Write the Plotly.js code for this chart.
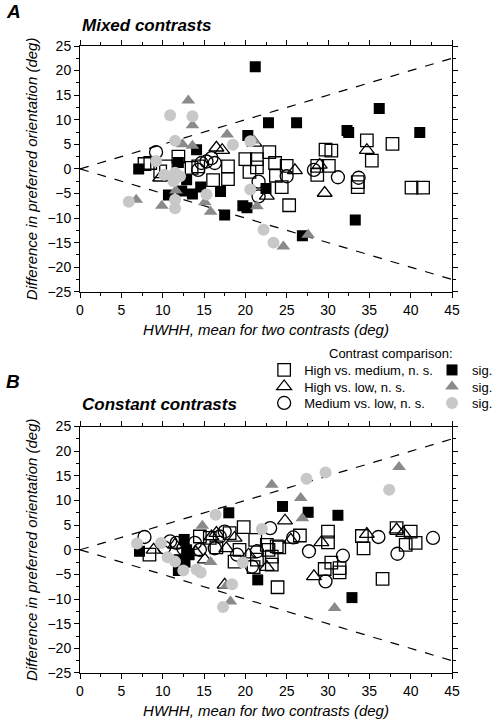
<!DOCTYPE html>
<html>
<head>
<meta charset="utf-8">
<script src="https://cdn.plot.ly/plotly-3.0.1.min.js"></script>
<style>html,body{margin:0;padding:0;background:#fff;}#chart{width:498px;height:721px;}</style>
</head>
<body>
<div id="chart"></div>
<script>
// ---------- Panel A: Mixed contrasts ----------
var mixHMnsX = [7.8,8.5,9.7,10.4,11.9,13.5,14.3,16.1,17.9,17.9,20.0,21.4,21.4,20.5,22.9,23.6,23.7,25.0,24.4,25.3,29.7,30.4,28.7,30.1,28.7,33.6,33.6,34.7,35.3,37.8,40.1,41.5];
var mixHMnsY = [1.0,1.2,-0.5,0.5,2.5,0.2,0.5,-2.3,0.5,-2.1,2.0,2.0,0.3,-0.6,3.4,1.2,-1.4,0.6,-3.7,-7.4,3.9,3.7,0.6,0.6,-1.2,-2.7,-3.7,5.8,1.7,5.1,-3.8,-3.8];
var mixHMsigX = [7.1,10.7,11.9,12.3,12.9,13.6,14.1,14.6,17.0,17.5,19.7,20.3,20.2,21.2,22.5,22.8,26.2,26.9,32.3,32.5,33.3,36.2,41.1];
var mixHMsigY = [0.0,-5.3,1.3,-4.5,-2.2,-5.1,3.9,-3.7,-4.6,-9.4,-7.5,6.8,-7.9,20.8,-4.0,9.4,9.4,-13.6,7.8,7.4,-10.4,12.3,7.4];
var mixHLnsX = [9.7,16.5,17.2,21.1,22.6,26.0,29.0,29.6,34.7];
var mixHLnsY = [-1.8,4.3,3.8,5.3,-5.5,-0.3,0.8,-4.9,3.8];
var mixHLsigX = [6.8,9.9,11.6,12.4,13.1,13.6,13.6,15.1,15.8,17.8,21.0,21.4,24.6,27.6];
var mixHLsigY = [-6.3,-7.5,-4.4,5.0,13.9,8.9,4.7,-6.8,-8.7,7.0,5.8,-7.6,-15.8,-13.4];
var mixMLnsX = [9.2,14.3,14.7,15.3,15.9,16.3,21.6,21.6,25.0,28.3,31.2,33.7];
var mixMLnsY = [3.4,-0.2,1.2,1.5,2.2,1.2,-2.6,-5.6,-1.5,-0.2,-1.7,-1.8];
var mixMLsigX = [5.9,9.2,10.2,10.9,11.5,11.5,11.3,12.1,11.5,11.5,13.6,15.3,18.5,20.6,20.6,22.2,23.4];
var mixMLsigY = [-6.7,1.6,-1.2,10.9,5.7,-0.8,-2.5,-1.5,-6.3,-8.0,10.7,-5.2,4.9,5.6,-4.2,-12.4,-15.0];

// ---------- Panel B: Constant contrasts ----------
var conHMnsX = [8.4,14.5,15.7,16.5,18.1,19.3,18.7,19.8,21.2,21.4,21.0,22.6,22.8,23.2,23.2,23.9,23.8,24.1,26.6,30.0,30.0,29.6,30.4,31.4,31.4,34.1,34.3,36.6,38.3,39.4,40.0,40.6];
var conHMnsY = [-1.0,2.7,2.4,0.5,3.4,0.0,-2.4,4.6,2.0,-2.0,-3.5,1.0,0.0,-1.4,-3.0,-7.6,0.7,0.5,2.9,3.7,1.5,-3.9,-2.6,-3.7,-4.6,2.8,0.3,-5.9,4.4,1.0,3.7,1.4];
var conHMsigX = [7.2,11.9,12.0,12.6,12.9,13.2,12.7,18.0,21.5,24.5,27.6,31.2,32.9];
var conHMsigY = [-0.3,-4.2,-2.0,2.1,0.0,-1.0,-2.5,7.5,-6.1,8.8,7.6,7.0,-9.7];
var conHLnsX = [8.9,11.5,14.0,15.1,15.9,16.5,17.7,18.7,17.5,20.4,22.6,24.8,25.5,28.3,29.2,34.7,38.3,39.1];
var conHLnsY = [0.0,1.0,-0.5,-2.0,2.7,3.4,0.3,2.4,-7.1,-1.0,-3.5,5.9,2.0,-5.4,1.5,3.2,4.1,3.4];
var conHLsigX = [14.8,15.8,17.7,18.2,23.2,26.7,26.9,30.8,38.6];
var conHLsigY = [4.9,-2.5,-7.3,-10.5,13.2,10.5,6.4,-11.8,16.8];
var conMLnsX = [7.8,10.2,10.9,11.7,12.5,13.9,14.5,16.3,16.9,17.5,19.0,20.8,21.4,23.0,25.8,27.7,29.7,31.8,36.1,38.4,42.7];
var conMLnsY = [2.6,0.5,1.7,1.4,0.3,1.4,0.0,0.3,2.7,3.7,-1.0,-3.4,-0.3,4.4,2.5,-0.3,-6.4,-1.2,2.6,-0.8,2.4];
var conMLsigX = [6.9,9.8,10.6,11.5,12.5,14.1,14.6,16.4,17.3,18.4,19.7,22.0,27.4,29.7,37.4];
var conMLsigY = [1.3,1.4,-1.5,-2.4,-4.2,-4.0,-4.6,7.1,-11.6,-7.0,-2.6,4.2,14.4,15.7,12.2];

var seriesNames = ['High vs. medium, n. s.', 'High vs. low, n. s.', 'Medium vs. low, n. s.', 'sig.', 'sig.', 'sig.'];
var axisRangeX = [0, 45];
var axisRangeY = [-25, 25];
var boundSlope = 0.5;

var FONT = 'Liberation Sans, Arial, Helvetica, sans-serif';

var styles = {
  hmNs:  {symbol:'square-open', size:12.5, color:'#000', line:{width:1.3, color:'#000'}},
  hlNs:  {symbol:'triangle-up-open', size:13, color:'#000', line:{width:1.3, color:'#000'}},
  mlNs:  {symbol:'circle-open', size:13, color:'#000', line:{width:1.3, color:'#000'}},
  hmSig: {symbol:'square', size:11, color:'#000', line:{width:0}},
  hlSig: {symbol:'triangle-up', size:12, color:'#8a8a8a', line:{width:0}},
  mlSig: {symbol:'circle', size:12, color:'#c8c8c8', line:{width:0}}
};

function tr(x, y, st, name, xa, ya, legendName, show) {
  return {type:'scatter', mode:'markers', x:x, y:y, xaxis:xa, yaxis:ya, name:name,
    marker:st, showlegend:show, legend:legendName, hoverinfo:'x+y'};
}

var data = [
  tr(mixHMnsX, mixHMnsY, styles.hmNs, seriesNames[0], 'x', 'y', 'legend', true),
  tr(mixHLnsX, mixHLnsY, styles.hlNs, seriesNames[1], 'x', 'y', 'legend2', true),
  tr(mixMLnsX, mixMLnsY, styles.mlNs, seriesNames[2], 'x', 'y', 'legend3', true),
  tr(mixHMsigX, mixHMsigY, styles.hmSig, seriesNames[3], 'x', 'y', 'legend4', true),
  tr(mixHLsigX, mixHLsigY, styles.hlSig, seriesNames[4], 'x', 'y', 'legend5', true),
  tr(mixMLsigX, mixMLsigY, styles.mlSig, seriesNames[5], 'x', 'y', 'legend6', true),
  tr(conHMnsX, conHMnsY, styles.hmNs, seriesNames[0], 'x2', 'y2', 'legend', false),
  tr(conHLnsX, conHLnsY, styles.hlNs, seriesNames[1], 'x2', 'y2', 'legend2', false),
  tr(conMLnsX, conMLnsY, styles.mlNs, seriesNames[2], 'x2', 'y2', 'legend3', false),
  tr(conHMsigX, conHMsigY, styles.hmSig, seriesNames[3], 'x2', 'y2', 'legend4', false),
  tr(conHLsigX, conHLsigY, styles.hlSig, seriesNames[4], 'x2', 'y2', 'legend5', false),
  tr(conMLsigX, conMLsigY, styles.mlSig, seriesNames[5], 'x2', 'y2', 'legend6', false)
];

function xax(anchor) {
  return {
    anchor: anchor, domain:[0,1], range: axisRangeX, autorange:false,
    tick0:0, dtick:5, ticks:'outside', ticklen:5, tickwidth:1, tickcolor:'#000',
    minor:{ticks:'outside', dtick:2.5, ticklen:3, tickwidth:1, tickcolor:'#000', showgrid:false},
    showline:true, linecolor:'#000', linewidth:1, mirror:'ticks',
    showgrid:false, zeroline:false,
    tickfont:{family:FONT, size:14, color:'#000'},
    title:{text:'HWHH, mean for two contrasts (deg)', font:{family:FONT, size:15, color:'#000', style:'italic'}, standoff:7}
  };
}
function yax(anchor, dom) {
  return {
    anchor: anchor, domain: dom, range: axisRangeY, autorange:false,
    tick0:0, dtick:5, ticks:'outside', ticklen:5, tickwidth:1, tickcolor:'#000',
    minor:{ticks:'outside', dtick:2.5, ticklen:3, tickwidth:1, tickcolor:'#000', showgrid:false},
    showline:true, linecolor:'#000', linewidth:1, mirror:'ticks',
    showgrid:false, zeroline:false,
    tickfont:{family:FONT, size:14, color:'#000'},
    title:{text:'Difference in preferred orientation (deg)', font:{family:FONT, size:15, color:'#000', style:'italic'}, standoff:6}
  };
}

function boundShapes(xr, yr) {
  var dash = {color:'#000', width:1.2, dash:'dash'};
  return [
    {type:'line', xref:xr, yref:yr, x0:0, y0:0, x1:axisRangeX[1], y1:axisRangeX[1]*boundSlope, line:dash, layer:'below'},
    {type:'line', xref:xr, yref:yr, x0:0, y0:0, x1:axisRangeX[1], y1:-axisRangeX[1]*boundSlope, line:dash, layer:'below'}
  ];
}

function leg(x, y, anchor) {
  return {
    font:{family:FONT, size:13, color:'#000'}, bgcolor:'rgba(0,0,0,0)', borderwidth:0,
    orientation:'v', xanchor:anchor, yanchor:'middle', x:x, y:y, itemclick:false, itemdoubleclick:false
  };
}
var colL = 0.495, colR = 1.1237;
var rowY = [0.4833, 0.4569, 0.4306];

var layout = {
  width:498, height:721,
  margin:{l:80, r:46, t:46, b:48, autoexpand:false},
  paper_bgcolor:'#fff', plot_bgcolor:'#fff',
  font:{family:FONT, color:'#000'},
  xaxis: xax('y'),
  yaxis: yax('x', [0.608, 1]),
  xaxis2: xax('y2'),
  yaxis2: yax('x2', [0, 0.393]),
  shapes: boundShapes('x','y').concat(boundShapes('x2','y2')),
  legend: leg(colL, rowY[0], 'left'),
  legend2: leg(colL, rowY[1], 'left'),
  legend3: leg(colL, rowY[2], 'left'),
  legend4: leg(colR, rowY[0], 'right'),
  legend5: leg(colR, rowY[1], 'right'),
  legend6: leg(colR, rowY[2], 'right'),
  showlegend:true,
  annotations:[
    {text:'<b><i>A</i></b>', xref:'paper', yref:'paper', x:-0.205, y:1.055, xanchor:'left', yanchor:'middle', showarrow:false, font:{family:FONT, size:19, color:'#000'}},
    {text:'<b><i>Mixed contrasts</i></b>', xref:'paper', yref:'paper', x:0, y:1.032, xanchor:'left', yanchor:'middle', showarrow:false, font:{family:FONT, size:17, color:'#000'}},
    {text:'<b><i>B</i></b>', xref:'paper', yref:'paper', x:-0.205, y:0.465, xanchor:'left', yanchor:'middle', showarrow:false, font:{family:FONT, size:19, color:'#000'}},
    {text:'<b><i>Constant contrasts</i></b>', xref:'paper', yref:'paper', x:0, y:0.428, xanchor:'left', yanchor:'middle', showarrow:false, font:{family:FONT, size:17, color:'#000'}},
    {text:'Contrast comparison:', xref:'paper', yref:'paper', x:0.836, y:0.5088, xanchor:'center', yanchor:'middle', showarrow:false, font:{family:FONT, size:13, color:'#000'}}
  ]
};

Plotly.newPlot('chart', data, layout, {displayModeBar:false, staticPlot:true});
</script>
</body>
</html>
